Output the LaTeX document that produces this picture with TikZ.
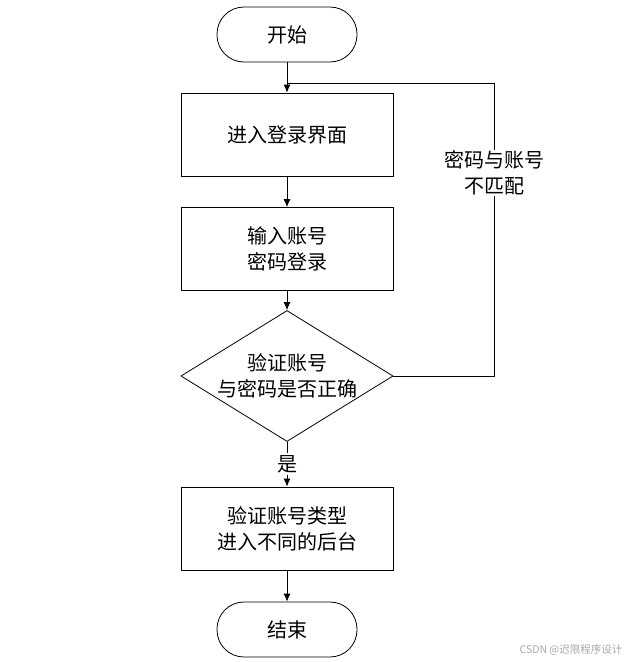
\documentclass[tikz,border=0pt]{standalone}
\usepackage{fontspec}
\setmainfont{Noto Sans CJK SC}
\usepackage{tikz}
\usetikzlibrary{shapes.geometric, arrows.meta}

\tikzset{
    terminal/.style={draw, rounded corners=27pt, minimum width=140pt, minimum height=55pt, inner sep=0pt},
    process/.style={draw, rectangle, minimum width=212pt, minimum height=83pt, inner sep=0pt, align=center},
    decision/.style={draw, diamond, aspect=1.62, minimum width=212pt, minimum height=131pt, inner sep=0pt, align=center},
}

\begin{document}
\begin{tikzpicture}[x=1pt, y=1pt, anchor=center, line width=0.8pt,
    every node/.append style={font=\fontsize{20}{26}\selectfont}]
                            \useasboundingbox (0, 0) rectangle (634, -662);

                            \node (start) at (287, -34.5) [terminal] {开始};
                            \node (login) at (287, -134.5) [process] {进入登录界面};
                            \node (input) at (287, -249) [process] {输入账号\\密码登录};
                            \node (check) at (287, -376) [decision] {验证账号\\与密码是否正确};
                            \node (enter) at (287, -528.5) [process] {验证账号类型\\进入不同的后台};
                            \node (finish) at (287, -629.5) [terminal] {结束};

                            \coordinate (join) at (287, -83);
                            \coordinate (turn) at (494, -83);

                            \draw[->, >={Latex[length=8pt, width=7pt]}] (start) to (login);
                            \draw[->, >={Latex[length=8pt, width=7pt]}] (login) to (input);
                            \draw[->, >={Latex[length=8pt, width=7pt]}] (input) to (check);
                            \draw[->, >={Latex[length=8pt, width=7pt]}] (check) to node [fill=white, inner sep=2pt] {是} (enter);
                            \draw[->, >={Latex[length=8pt, width=7pt]}] (enter) to (finish);
                            \draw (check.east) -| (turn) to (join);

                            \node (nomatch) at (494, -173) [fill=white, align=center, inner sep=1pt] {密码与账号\\不匹配};
                            \node (mark) at (571, -650) [text=black!35, font=\fontsize{10.5}{12}\selectfont] {CSDN @迟限程序设计};
                        \end{tikzpicture}
\end{document}
